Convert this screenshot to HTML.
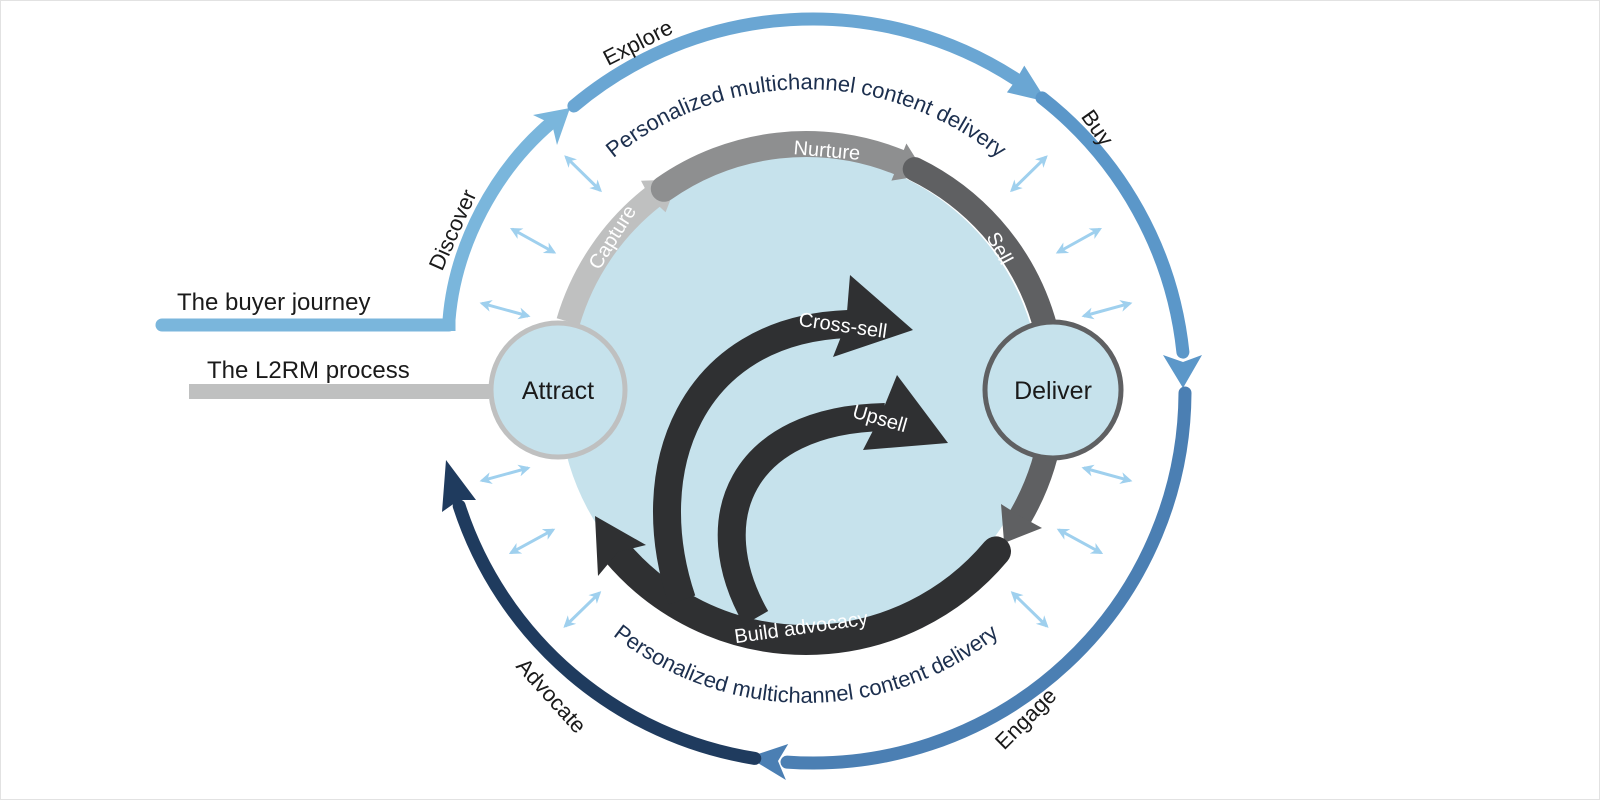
<!DOCTYPE html>
<html><head><meta charset="utf-8"><style>
html,body{margin:0;padding:0;background:#fff;}
svg{display:block;}
text{font-family:"Liberation Sans",Arial,sans-serif;}
</style></head><body>
<svg width="1600" height="800" viewBox="0 0 1600 800" xmlns="http://www.w3.org/2000/svg">
<defs>
<marker id="ah" viewBox="0 0 10 10" refX="8" refY="5" markerWidth="4" markerHeight="4" orient="auto-start-reverse"><path d="M0,0 L10,5 L0,10 L3,5 Z" fill="#9fd0ee"/></marker>
<path id="ptop" d="M 552 227 A 303 303 0 0 1 1060 227"/>
<path id="pbot" d="M 537 547 A 310 310 0 0 0 1075 547"/>
</defs>
<rect x="0.5" y="0.5" width="1599" height="799" fill="#fff" stroke="#e2e2e2"/>

<!-- light blue disc -->
<circle cx="800" cy="395" r="241" fill="#c6e2ec"/>

<!-- Gray process ring -->
<path d="M 568.2 321.6 A 248 248 0 0 1 653.3 196.6" fill="none" stroke="#bfc0c0" stroke-width="24"/>
<polygon points="665.6,212.3 678.3,179.4 641,180.8 650,198" fill="#bfc0c0"/>
<path d="M 663.8 188.8 A 248 248 0 0 1 898.9 162.1" fill="none" stroke="#8e8f90" stroke-width="26" stroke-linecap="round"/>
<polygon points="891.4,180.6 926.2,175.1 906.4,143.5 899,162" fill="#8e8f90"/>
<path d="M 914.7 169.1 A 248 248 0 0 1 1020.8 516" fill="none" stroke="#5f6062" stroke-width="24" stroke-linecap="round"/>
<polygon points="1001,504 1004.1,543 1042,528 1020,516" fill="#5f6062"/>
<!-- Build advocacy -->
<path d="M 996 551.4 A 248 248 0 0 1 616 551.4" fill="none" stroke="#2f3032" stroke-width="30" stroke-linecap="round"/>
<polygon points="646,545 595,516 598,576 618,552" fill="#2f3032"/>
<!-- cross-sell -->
<path d="M 682 600 C 638 470, 690 330, 848 324" fill="none" stroke="#2f3032" stroke-width="28"/>
<polygon points="850,275 913,330 833,357 846,324" fill="#2f3032"/>
<!-- upsell -->
<path d="M 756 618 C 700 520, 740 420, 885 417" fill="none" stroke="#2f3032" stroke-width="28"/>
<polygon points="897,375 948,443 863,450 880,417" fill="#2f3032"/>

<!-- Attract / Deliver -->
<rect x="189" y="384" width="300" height="15" fill="#bfc0c0"/>
<circle cx="558" cy="390" r="67" fill="#c6e2ec" stroke="#bfc0c0" stroke-width="5"/>
<circle cx="1053" cy="390" r="68" fill="#c6e2ec" stroke="#5f6062" stroke-width="5"/>
<text x="558" y="399" font-size="25" text-anchor="middle" fill="#1a1a1a">Attract</text>
<text x="1053" y="399" font-size="25" text-anchor="middle" fill="#1a1a1a">Deliver</text>

<!-- Outer ring -->
<path d="M 162 325 L 449 325" stroke="#7ab6dc" stroke-width="13" stroke-linecap="round" fill="none"/>
<path d="M 449 331 L 449 320 C 455 245, 495 170, 552 122" stroke="#7ab6dc" stroke-width="13" fill="none"/>
<polygon points="533,115 570,108 557,145 552,124" fill="#7ab6dc"/>
<path d="M 573.9 106 A 372 372 0 0 1 1015.6 79" stroke="#6aa6d3" stroke-width="13" fill="none" stroke-linecap="round"/>
<polygon points="1006.9,92.4 1047.1,101.9 1024.3,65.6 1016,80" fill="#6aa6d3"/>
<path d="M 1042 97.9 A 372 372 0 0 1 1182.9 352.1" stroke="#5b97c9" stroke-width="13" fill="none" stroke-linecap="round"/>
<polygon points="1163,355 1183,388 1202,355 1183,362" fill="#5b97c9"/>
<path d="M 1185 393 A 372 372 0 0 1 787 762.1" stroke="#4b7fb3" stroke-width="13" fill="none" stroke-linecap="round"/>
<polygon points="788.2,744 748.4,757.3 785.9,780 778,761" fill="#4b7fb3"/>
<path d="M 754.8 758.4 A 372 372 0 0 1 459.2 506" stroke="#1f3b5e" stroke-width="13" fill="none" stroke-linecap="round"/>
<polygon points="476,500 446,460 442,512 459,500" fill="#1f3b5e"/>

<!-- small double arrows -->
<g stroke="#9fd0ee" stroke-width="3" fill="none">
<g transform="translate(806,392) rotate(-135.6)"><line x1="288" y1="0" x2="336" y2="0" marker-start="url(#ah)" marker-end="url(#ah)"/></g>
<g transform="translate(806,392) rotate(-151)"><line x1="288" y1="0" x2="336" y2="0" marker-start="url(#ah)" marker-end="url(#ah)"/></g>
<g transform="translate(806,392) rotate(-164.7)"><line x1="288" y1="0" x2="336" y2="0" marker-start="url(#ah)" marker-end="url(#ah)"/></g>
<g transform="translate(806,392) rotate(164.7)"><line x1="288" y1="0" x2="336" y2="0" marker-start="url(#ah)" marker-end="url(#ah)"/></g>
<g transform="translate(806,392) rotate(151.4)"><line x1="288" y1="0" x2="336" y2="0" marker-start="url(#ah)" marker-end="url(#ah)"/></g>
<g transform="translate(806,392) rotate(135.8)"><line x1="288" y1="0" x2="336" y2="0" marker-start="url(#ah)" marker-end="url(#ah)"/></g>
<g transform="translate(806,392) rotate(-44.4)"><line x1="288" y1="0" x2="336" y2="0" marker-start="url(#ah)" marker-end="url(#ah)"/></g>
<g transform="translate(806,392) rotate(-29)"><line x1="288" y1="0" x2="336" y2="0" marker-start="url(#ah)" marker-end="url(#ah)"/></g>
<g transform="translate(806,392) rotate(-15.3)"><line x1="288" y1="0" x2="336" y2="0" marker-start="url(#ah)" marker-end="url(#ah)"/></g>
<g transform="translate(806,392) rotate(15.3)"><line x1="288" y1="0" x2="336" y2="0" marker-start="url(#ah)" marker-end="url(#ah)"/></g>
<g transform="translate(806,392) rotate(28.6)"><line x1="288" y1="0" x2="336" y2="0" marker-start="url(#ah)" marker-end="url(#ah)"/></g>
<g transform="translate(806,392) rotate(44.2)"><line x1="288" y1="0" x2="336" y2="0" marker-start="url(#ah)" marker-end="url(#ah)"/></g>
</g>

<!-- Texts -->
<text x="177" y="310" font-size="24" fill="#1a1a1a">The buyer journey</text>
<text x="207" y="378" font-size="24" fill="#1a1a1a">The L2RM process</text>
<text font-size="22" fill="#1c2f4e"><textPath href="#ptop" startOffset="50%" text-anchor="middle">Personalized multichannel content delivery</textPath></text>
<text font-size="22" fill="#1c2f4e"><textPath href="#pbot" startOffset="50%" text-anchor="middle">Personalized multichannel content delivery</textPath></text>

<g font-size="22" fill="#1a1a1a" text-anchor="middle">
<text transform="translate(638,43) rotate(-27)" dy="7">Explore</text>
<text transform="translate(1097,128) rotate(55)" dy="7">Buy</text>
<text transform="translate(453,230) rotate(-66)" dy="7">Discover</text>
<text transform="translate(1026,719) rotate(-45)" dy="7">Engage</text>
<text transform="translate(551,696) rotate(48)" dy="7">Advocate</text>
</g>
<g font-size="20" fill="#fff" text-anchor="middle">
<text transform="translate(827,150) rotate(5)" dy="7">Nurture</text>
<text transform="translate(612,237) rotate(-58)" dy="7">Capture</text>
<text transform="translate(1000,248) rotate(62)" dy="7">Sell</text>
<text transform="translate(843,325) rotate(8)" dy="7">Cross-sell</text>
<text transform="translate(880,418) rotate(16)" dy="7">Upsell</text>
<text transform="translate(801,627) rotate(-8)" dy="7">Build advocacy</text>
</g>
</svg>
</body></html>
